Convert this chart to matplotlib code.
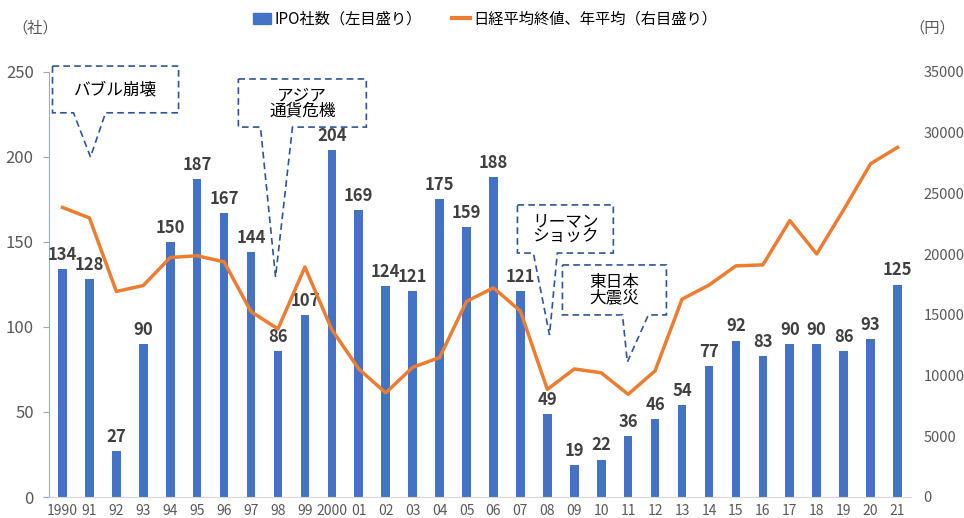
import numpy as np
import matplotlib
matplotlib.use("Agg")
import matplotlib.pyplot as plt
from matplotlib.lines import Line2D
from matplotlib.patches import Patch, Polygon

plt.rcParams["font.family"] = ["Liberation Sans Narrow", "Noto Sans CJK JP", "DejaVu Sans"]
JP = ["Noto Sans CJK JP", "DejaVu Sans"]

# data
years = ["1990", "91", "92", "93", "94", "95", "96", "97", "98", "99",
         "2000", "01", "02", "03", "04", "05", "06", "07", "08", "09",
         "10", "11", "12", "13", "14", "15", "16", "17", "18", "19", "20", "21"]
ipo = [134, 128, 27, 90, 150, 187, 167, 144, 86, 107,
       204, 169, 124, 121, 175, 159, 188, 121, 49, 19,
       22, 36, 46, 54, 77, 92, 83, 90, 90, 86, 93, 125]
nikkei = [23849, 22984, 16925, 17417, 19723, 19868, 19361, 15259, 13842, 18934,
          13786, 10543, 8579, 10677, 11489, 16111, 17226, 15308, 8860, 10546,
          10229, 8455, 10395, 16291, 17451, 19034, 19114, 22765, 20015, 23657, 27444, 28792]
left_ticks = [0, 50, 100, 150, 200, 250]
right_ticks = [0, 5000, 10000, 15000, 20000, 25000, 30000, 35000]

# callouts: text, box (x0, x1, y0, y1), pointer bases (xa, xb), tip (x, y)
events = [
    ("バブル崩壊", (-0.37, 4.31, 226, 253.5), (0.41, 1.60), (1.04, 200)),
    ("アジア\n通貨危機", (6.53, 11.28, 217.6, 245.9), (7.35, 8.54), (7.91, 129.4)),
    ("リーマン\nショック", (16.89, 20.45, 143.5, 171.8), (17.48, 18.37), (18.08, 95.3)),
    ("東日本\n大震災", (18.56, 22.42, 107.1, 136.5), (20.79, 21.75), (20.97, 79.4)),
]

BLUE = "#4472C4"
ORANGE = "#ED7D31"
GREY = "#595959"

fig = plt.figure(figsize=(9.64, 5.18), dpi=100)
ax = fig.add_axes([49/964, 1-497/518, (911-49)/964, (497-72)/518])
x = np.arange(len(years))

ax.bar(x, ipo, width=0.32, color=BLUE, zorder=2)
for xi, v in zip(x, ipo):
    ax.text(xi, v + 3, str(v), ha="center", va="bottom", fontsize=12,
            fontweight="bold", color="#404040", zorder=6)

ax.set_xlim(-0.5, len(years) - 0.5)
ax.set_ylim(0, 250)
ax.set_yticks(left_ticks)
ax.set_xticks(x)
ax.set_xticklabels(years)
ax.tick_params(axis="x", length=0, labelsize=10, labelcolor=GREY, pad=5)
ax.tick_params(axis="y", length=4, color="#8FAADC", labelsize=12, labelcolor=GREY, pad=7)
for s in ["top", "right"]:
    ax.spines[s].set_visible(False)
ax.spines["left"].set_color("#8FAADC")
ax.spines["bottom"].set_color("#D9D9D9")

ax2 = ax.twinx()
ax2.plot(x, nikkei, color=ORANGE, lw=2.5, zorder=3)
ax2.set_ylim(0, 35000)
ax2.set_yticks(right_ticks)
ax2.tick_params(axis="y", length=0, labelsize=10.5, labelcolor=GREY, pad=9)
for s in ["top", "right", "left", "bottom"]:
    ax2.spines[s].set_visible(False)

for text, (x0, x1, y0, y1), (xa, xb), (tx, ty) in events:
    pts = [(x0, y1), (x1, y1), (x1, y0), (xb, y0), (tx, ty), (xa, y0), (x0, y0)]
    poly = Polygon(pts, closed=True, facecolor="white", edgecolor="#2F5597",
                   lw=1.2, linestyle=(0, (4, 2.5)), zorder=5, clip_on=False)
    ax.add_patch(poly)
    ax.text((x0 + x1) / 2, (y0 + y1) / 2, text, ha="center", va="center",
            fontsize=12, family=JP, linespacing=0.85, zorder=7, clip_on=False)

handles = [Patch(color=BLUE), Line2D([0], [0], color=ORANGE, lw=3)]
labels = ["IPO社数（左目盛り）", "日経平均終値、年平均（右目盛り）"]
fig.legend(handles, labels, loc="center", bbox_to_anchor=(485/964, 1-19/518), ncol=2,
           frameon=False, prop={"family": JP, "size": 11}, handlelength=1.2,
           handletextpad=0.2, columnspacing=2.0)

fig.text(12/964, 1-28/518, "（社）", ha="left", va="center", fontsize=11, family=JP, color=GREY)
fig.text(955/964, 1-28/518, "（円）", ha="right", va="center", fontsize=11, family=JP, color=GREY)

fig.savefig("out.png", dpi=100)
